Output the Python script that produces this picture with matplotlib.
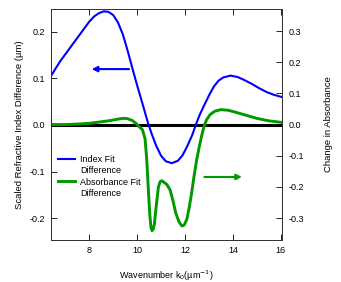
import matplotlib
matplotlib.use("Agg")
import matplotlib.pyplot as plt
from matplotlib.lines import Line2D

plt.rcParams['font.family'] = ['Liberation Sans', 'DejaVu Sans']
plt.rcParams['axes.unicode_minus'] = False

# index fit difference (left axis, um)
k_index = [6.4, 6.6, 6.8, 7.0, 7.2, 7.4, 7.6, 7.8, 8.0, 8.2, 8.4, 8.6, 8.8, 9.0, 9.2, 9.4,
           9.6, 9.8, 10.0, 10.2, 10.45, 10.6, 10.8, 11.0, 11.2, 11.45, 11.7, 11.9, 12.1,
           12.3, 12.45, 12.6, 12.8, 13.0, 13.2, 13.4, 13.6, 13.9, 14.2, 14.5, 14.8, 15.1,
           15.4, 15.7, 16.05]
index_diff = [0.105, 0.122, 0.138, 0.152, 0.166, 0.180, 0.194, 0.208, 0.222, 0.233, 0.240,
              0.244, 0.243, 0.236, 0.220, 0.195, 0.160, 0.122, 0.085, 0.050, 0.005, -0.018,
              -0.045, -0.066, -0.078, -0.082, -0.077, -0.065, -0.045, -0.022, 0.0, 0.02,
              0.042, 0.063, 0.082, 0.095, 0.102, 0.106, 0.103, 0.096, 0.088, 0.079, 0.071,
              0.065, 0.060]

# absorbance fit difference (right axis)
k_abs = [6.4, 7.0, 7.6, 8.0, 8.4, 8.8, 9.1, 9.3, 9.45, 9.6, 9.8, 9.95, 10.1, 10.22,
         10.33, 10.4, 10.47, 10.53, 10.58, 10.62, 10.67, 10.72, 10.8, 10.89, 10.96, 11.03,
         11.12, 11.24, 11.38, 11.5, 11.62, 11.75, 11.87, 11.97, 12.08, 12.18, 12.28, 12.38,
         12.49, 12.6, 12.7, 12.8, 12.9, 13.05, 13.25, 13.5, 13.8, 14.1, 14.5, 15.0, 15.5,
         16.05]
abs_diff = [0.0, 0.0, 0.002, 0.004, 0.008, 0.012, 0.016, 0.019, 0.020, 0.019, 0.013, 0.004,
            -0.008, -0.016, -0.045, -0.11, -0.21, -0.29, -0.33, -0.34, -0.336, -0.32,
            -0.26, -0.2, -0.183, -0.18, -0.185, -0.192, -0.21, -0.245, -0.285, -0.312,
            -0.325, -0.322, -0.303, -0.265, -0.218, -0.165, -0.112, -0.07, -0.035, -0.005,
            0.015, 0.032, 0.043, 0.048, 0.046, 0.04, 0.031, 0.02, 0.012, 0.007]

x_ticks = [8, 10, 12, 14, 16]
left_ticks = [-0.2, -0.1, 0.0, 0.1, 0.2]
right_ticks = [-0.3, -0.2, -0.1, 0.0, 0.1, 0.2, 0.3]
legend_labels = ['Index Fit', 'Difference', 'Absorbance Fit', 'Difference']

blue = '#0000ff'
green = '#009a00'
fs = 6.5

fig = plt.figure(figsize=(3.41, 2.82), dpi=100)
ax = fig.add_axes([0.1496, 0.149, 0.677, 0.819])
ax2 = ax.twinx()

ax.axhline(0, color='black', lw=2.2, zorder=1)
l1, = ax.plot(k_index, index_diff, color=blue, lw=1.5, zorder=3)
l2, = ax2.plot(k_abs, abs_diff, color=green, lw=2.1)

ax.set_xlim(6.4, 16.05)
ax.set_ylim(-0.247, 0.249)
ax2.set_ylim(-0.37, 0.3705)

ax.set_xticks(x_ticks)
ax.set_yticks(left_ticks)
ax.set_yticklabels(['-0.2', '-0.1', '0.0', '0.1', '0.2'])
ax2.set_yticks(right_ticks)
ax2.set_yticklabels(['-0.3', '-0.2', '-0.1', '0.0', '0.1', '0.2', '0.3'])

ax.tick_params(axis='both', direction='in', labelsize=fs, length=4, width=0.6, top=True, pad=4)
ax2.tick_params(axis='y', direction='in', labelsize=fs, length=4, width=0.6, pad=5)
for a in (ax, ax2):
    for s in a.spines.values():
        s.set_linewidth(0.7)
        s.set_color('#333333')

ax.set_xlabel('Wavenumber k$_0$(µm$^{-1}$)', fontsize=fs, labelpad=10)
ax.set_ylabel('Scaled Refractive Index Difference (µm)', fontsize=6.8, labelpad=4)
ax2.set_ylabel('Change in Absorbance', fontsize=6.8, labelpad=14)

# direction arrows
ax.annotate('', xy=(8.1, 0.12), xytext=(9.66, 0.12),
            arrowprops=dict(arrowstyle='-|>', color=blue, lw=1.5, mutation_scale=8,
                            shrinkA=0, shrinkB=0))
ax2.annotate('', xy=(14.38, -0.168), xytext=(12.81, -0.168),
             arrowprops=dict(arrowstyle='-|>', color=green, lw=1.5, mutation_scale=8,
                             shrinkA=0, shrinkB=0))

# legend: handle sits beside the first line of each label
blank = Line2D([], [], color='none')
ax2.legend(handles=[l1, blank, l2, blank], labels=legend_labels, loc='center left',
           bbox_to_anchor=(0.015, 0.275), frameon=False, fontsize=fs, handlelength=1.9,
           handletextpad=0.55, labelspacing=0.25, borderaxespad=0.0)

fig.savefig('out.png', dpi=100)
